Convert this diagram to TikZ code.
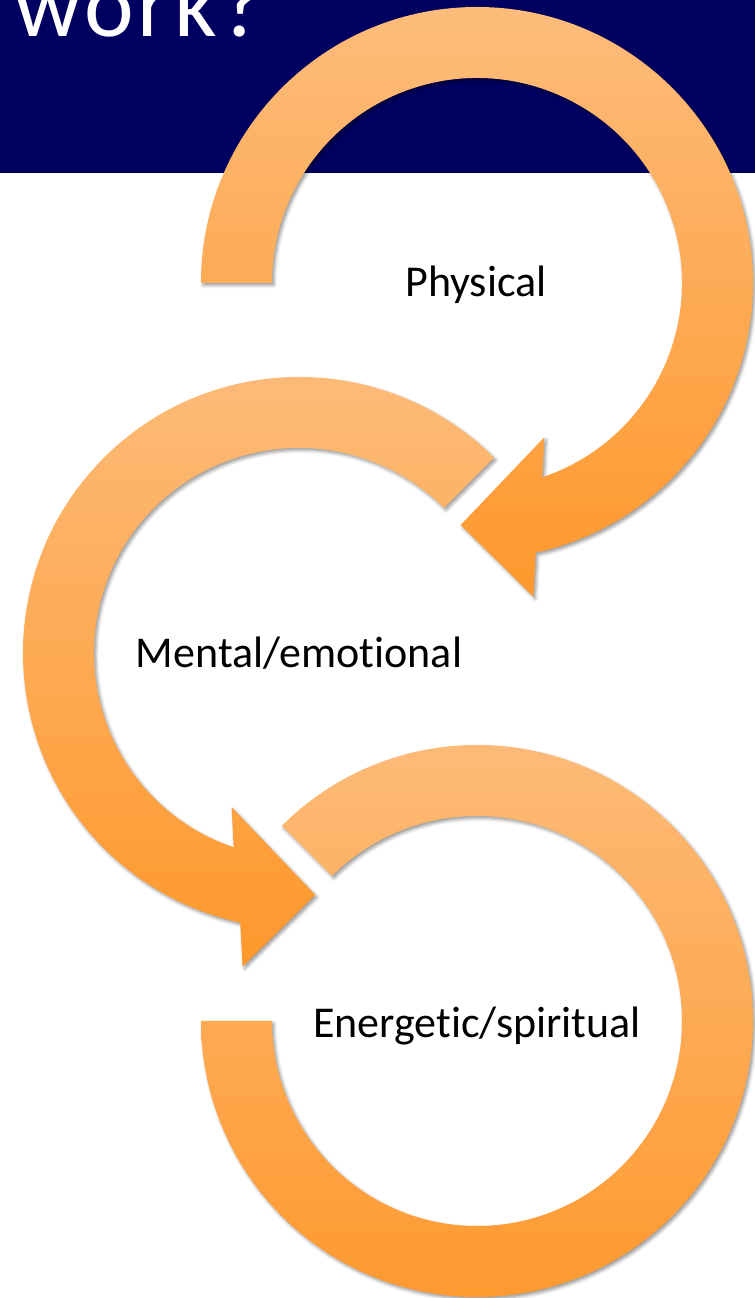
\documentclass[tikz,border=0pt]{standalone}
\usepackage{fontspec}
\setmainfont{Carlito}[Ligatures=CommonOff]
\newfontfamily\titlefont{Carlito}[LetterSpace=4]
\usetikzlibrary{shadows.blur}

\definecolor{banner}{RGB}{0,0,96}
\definecolor{ringtop}{RGB}{253,188,123}
\definecolor{ringbot}{RGB}{254,152,44}

\tikzset{
    ring/.style={top color=ringtop, bottom color=ringbot, draw=none,
        blur shadow={shadow xshift=1pt, shadow yshift=-1.2pt, shadow blur radius=1.6pt}},
    label/.style={anchor=base, inner sep=0pt, font=\fontsize{22}{26}\selectfont}
}

\begin{document}
\begin{tikzpicture}[x=0.5pt, y=0.5pt]
            \clip (0,0) rectangle (755,1298);
            \fill[banner] (0,1125) rectangle (755,1298);
            \node[anchor=base west, inner sep=0pt, text=white, font=\titlefont\fontsize{47}{50}\selectfont] (work) at (14,1261) {work?};

            % physical, clockwise
            \begin{scope}[shift={(477,1015)}]
                \path[ring] (180:276) arc[start angle=180, end angle=-77.7, radius=276]
                    -- (-79.8:318.7) -- (-93.85:242.5) -- (-66.4:168.3)
                    -- (-71.4:205) arc[start angle=-71.4, end angle=180, radius=205] -- cycle;
            \end{scope}

            % mental/emotional, counterclockwise
            \begin{scope}[shift={(299,645)}]
                \path[ring] (45:276) arc[start angle=45, end angle=257.7, radius=276]
                    -- (259.8:318.7) -- (273.85:242.5) -- (246.4:168.3)
                    -- (251.4:205) arc[start angle=251.4, end angle=45, radius=205] -- cycle;
            \end{scope}

            % energetic/spiritual
            \begin{scope}[shift={(477,277)}]
                \path[ring] (135:276) arc[start angle=135, end angle=-180, radius=276]
                    -- (-180:205) arc[start angle=-180, end angle=135, radius=205] -- cycle;
            \end{scope}

            \node[label] (phys) at (476,1001) {Physical};
            \node[label] (ment) at (299,630) {Mental/emotional};
            \node[label] (ener) at (477,260) {Energetic/spiritual};
        \end{tikzpicture}
\end{document}
